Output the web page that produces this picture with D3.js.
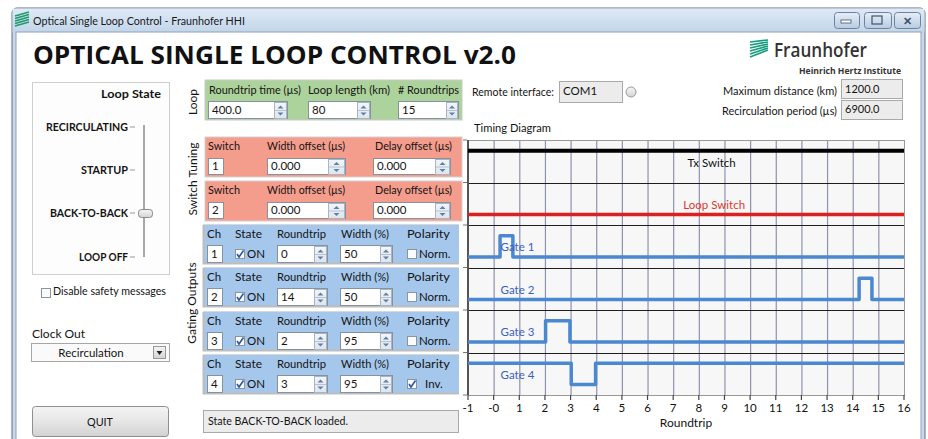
<!DOCTYPE html>
<html><head><meta charset="utf-8">
<script src="https://cdn.jsdelivr.net/npm/d3@7"></script>
<style>
body{margin:0;background:#fff;overflow:hidden}
svg{display:block}
text{font-family:"Lato","Open Sans",sans-serif}
</style>
</head><body>
<svg id="c" width="928" height="439"></svg>
<script>
// ---------------- DATA ----------------
const roundtripTicks = [-1,0,1,2,3,4,5,6,7,8,9,10,11,12,13,14,15,16];
const tickLabels = ["-1","-0","1","2","3","4","5","6","7","8","9","10","11","12","13","14","15","16"];
const laneNames = ["Tx Switch","Loop Switch","Gate 1","Gate 2","Gate 3","Gate 4"];
const txLevel = 1;      // high
const loopLevel = 0;    // low
const gateNames = ["Gate 1","Gate 2","Gate 3","Gate 4"];
const gateStart = [0.25, 14.25, 2.025, 3.025];
const gateEnd   = [0.75, 14.75, 2.975, 3.975];
const gateInverted = [false, false, false, true];

const loopStates = ["RECIRCULATING","STARTUP","BACK-TO-BACK","LOOP OFF"];
const loopFields = ["Roundtrip time (µs)","Loop length (km)","# Roundtrips"];
const loopValues = ["400.0","80","15"];
const switchIds = ["1","2"];
const widthOffsets = ["0.000","0.000"];
const delayOffsets = ["0.000","0.000"];
const channels = ["1","2","3","4"];
const chRoundtrip = ["0","14","2","3"];
const chWidth = ["50","50","95","95"];
const chPolarity = ["Norm.","Norm.","Norm.","Inv."];
const chPolarityChecked = [false,false,false,true];

// ---------------- HELPERS ----------------
const svg = d3.select("#c");
const defs = svg.append("defs");
function grad(id, stops){
  const g = defs.append("linearGradient").attr("id",id).attr("x1",0).attr("y1",0).attr("x2",0).attr("y2",1);
  stops.forEach(s=>g.append("stop").attr("offset",s[0]).attr("stop-color",s[1]));
}
grad("titleG",[[0,"#dfeaf6"],[1,"#c2d5ea"]]);
grad("btnG",[[0,"#f4f4f4"],[0.5,"#e6e6e6"],[1,"#d2d2d2"]]);
grad("winBtn",[[0,"#e6eef8"],[1,"#b8cbe2"]]);
grad("spinG",[[0,"#f2f5f9"],[1,"#dde5ee"]]);
grad("thumbG",[[0,"#f6f6f6"],[1,"#d4d4d4"]]);

function T(x,y,s,o={}){
  const e = svg.append("text").attr("x",x).attr("y",y).text(s)
    .attr("font-size",o.size||12).attr("fill",o.fill||"#141414")
    .attr("text-anchor",o.anchor||"start");
  if(o.weight) e.attr("font-weight",o.weight);
  if(o.len) e.attr("textLength",o.len).attr("lengthAdjust","spacingAndGlyphs");
  if(o.family) e.style("font-family",o.family);
  if(o.rotate) e.attr("transform",`rotate(-90,${x},${y})`);
  return e;
}
function R(x,y,w,h,fill,stroke,sw=1,rx=0){
  return svg.append("rect").attr("x",x).attr("y",y).attr("width",w).attr("height",h)
    .attr("fill",fill).attr("stroke",stroke||"none").attr("stroke-width",sw).attr("rx",rx);
}
function spin(x,y,w,h){
  R(x+.5,y+.5,w-1,h-1,"url(#spinG)","#a9b5c2");
  const m = y + h/2;
  svg.append("line").attr("x1",x+1).attr("x2",x+w-1).attr("y1",m).attr("y2",m).attr("stroke","#b8c2cc");
  const cx = x + w/2;
  svg.append("path").attr("d",`M${cx-3},${m-2}L${cx+3},${m-2}L${cx},${m-5}Z`).attr("fill","#5d7fa8");
  svg.append("path").attr("d",`M${cx-3},${m+2}L${cx+3},${m+2}L${cx},${m+5}Z`).attr("fill","#5d7fa8");
}
function input(x,y,w,h,val,spinW){
  R(x+.5,y+.5,w,h,"#fff","#8592a0");
  T(x+4,y+h-4,val,{size:11.5});
  if(spinW) spin(x+w-spinW,y+1,spinW,h);
}
function check(x,y,checked){
  R(x+.5,y+.5,9,9,"#fbfbfb","#8a95a2");
  if(checked) svg.append("path").attr("d",`M${x+2},${y+5}L${x+4},${y+8}L${x+8.5},${y+1.5}`)
    .attr("fill","none").attr("stroke","#2a57a8").attr("stroke-width",1.6);
}

// ---------------- WINDOW ----------------
R(12,8,913,440,"#c9d9eb","#5e6e80",1,5);
R(12.5,8.5,912,24,"url(#titleG)","none");
R(16,32,905,420,"#ffffff","#8fa2b6");
// title icon
[0,1,2,3,4].forEach(i=>svg.append("line").attr("x1",15).attr("y1",26-i*2.5).attr("x2",29).attr("y2",22-i*2.5)
  .attr("stroke","#1f9a6e").attr("stroke-width",1.6));
T(33,25,"Optical Single Loop Control - Fraunhofer HHI",{size:12,len:212,fill:"#1a1a1a"});
// window buttons
[[834,25],[864,27],[894,26]].forEach(b=>R(b[0]+.5,12.5,b[1],16,"url(#winBtn)","#6f8299",1,3));
svg.append("rect").attr("x",841).attr("y",20).attr("width",10).attr("height",3).attr("fill","#fff").attr("stroke","#41546b").attr("stroke-width",0.8);
svg.append("rect").attr("x",872).attr("y",16).attr("width",10).attr("height",8).attr("fill","none").attr("stroke","#41546b").attr("stroke-width",1.2);
T(907,25,"✕",{size:11,anchor:"middle",fill:"#41546b",weight:"bold"});

// main title
T(33,64,"OPTICAL SINGLE LOOP CONTROL v2.0",{size:25,weight:"bold",len:483,fill:"#111",family:"'Open Sans',sans-serif"});

// Fraunhofer logo
[0,1,2,3,4,5].forEach(i=>svg.append("line").attr("x1",750).attr("y1",57-i*3).attr("x2",768).attr("y2",50-i*2)
  .attr("stroke","#179c7d").attr("stroke-width",1.7));
T(774,57,"Fraunhofer",{size:19,len:93,fill:"#333",weight:600,family:"'Open Sans',sans-serif"});
T(901,74,"Heinrich Hertz Institute",{size:8.5,anchor:"end",weight:"bold",len:102,fill:"#333",family:"'Open Sans',sans-serif"});

// ---------------- LEFT PANEL ----------------
R(32.5,82.5,137,192,"#fdfdfd","#cfcfcf");
T(161,98,"Loop State",{size:12,anchor:"end",weight:"bold",len:60});
const stateY = [127,170,213,257];
const stateLen = [82,47,78,49];
svg.append("line").attr("x1",144).attr("x2",144).attr("y1",125).attr("y2",257).attr("stroke","#a8a8a8").attr("stroke-width",2);
loopStates.forEach((s,i)=>{
  T(128,stateY[i]+4,s,{size:11.5,anchor:"end",weight:"bold",len:stateLen[i]});
  svg.append("line").attr("x1",130).attr("x2",135).attr("y1",stateY[i]).attr("y2",stateY[i]).attr("stroke","#999");
});
R(138.5,209.5,14,8,"url(#thumbG)","#8a8a8a",1,3);

check(41,288,false);
T(53,295,"Disable safety messages",{size:12,len:113});
T(32,338,"Clock Out",{size:12});
R(31.5,343.5,138,18,"#fafafa","#a7a7a7");
T(91,357,"Recirculation",{size:11.5,anchor:"middle"});
R(153.5,346.5,12,12,"url(#btnG)","#999");
svg.append("path").attr("d","M156.5,351L162.5,351L159.5,355Z").attr("fill","#222");
R(32.5,406.5,136,30,"url(#btnG)","#8f8f8f",1,3);
T(100,426,"QUIT",{size:12,anchor:"middle",len:26});

// vertical section labels
T(197,102,"Loop",{size:12,anchor:"middle",rotate:true});
T(197,179,"Switch Tuning",{size:12,anchor:"middle",rotate:true});
T(196,303,"Gating Outputs",{size:12,anchor:"middle",rotate:true});

// ---------------- LOOP PANEL ----------------
R(205,80,257,40,"#add39c","#c9c9c9");
const loopLabelX = [209,308,398];
const loopLabelLen = [92,82,61];
const loopBox = [[208,79,13],[308,62,13],[398,60,12]];
loopFields.forEach((f,i)=>{
  T(loopLabelX[i],94,f,{size:11.5,len:loopLabelLen[i]});
  input(loopBox[i][0],101,loopBox[i][1],17,loopValues[i],loopBox[i][2]);
});

// ---------------- SWITCH TUNING ----------------
const swTop = [137,181];
switchIds.forEach((id,i)=>{
  const y0 = swTop[i];
  R(205,y0,257,40,"#f59d8c","#d2d2d2");
  T(208,y0+13,"Switch",{size:11.5,len:32});
  T(267,y0+13,"Width offset (µs)",{size:11.5,len:78});
  T(375,y0+13,"Delay offset (µs)",{size:11.5,len:77});
  input(208,y0+21,15,16,id);
  input(267,y0+21,78,16,widthOffsets[i],17);
  input(373,y0+21,77,16,delayOffsets[i],15);
});

// ---------------- GATING OUTPUTS ----------------
const chTop = [225,268,312,355];
channels.forEach((c,i)=>{
  const y0 = chTop[i];
  R(203,y0,256,38,"#a5c7ec","none");
  svg.append("path").attr("d",`M203.5,${y0}V${y0+38.5}H459`).attr("fill","none").attr("stroke","#bdbdbd").attr("stroke-width",2);
  svg.append("line").attr("x1",203).attr("x2",459).attr("y1",y0-0.5).attr("y2",y0-0.5).attr("stroke","#d8d8d8");
  T(207,y0+13,"Ch",{size:11.5});
  T(235,y0+13,"State",{size:11.5,len:27});
  T(277,y0+13,"Roundtrip",{size:11.5,len:49});
  T(341,y0+13,"Width (%)",{size:11.5,len:48});
  T(407,y0+13,"Polarity",{size:11.5,len:43});
  input(207,y0+20,15,17,c);
  check(235,y0+24,true);
  T(247,y0+33,"ON",{size:11.5});
  input(277,y0+20,50,17,chRoundtrip[i],13);
  input(340,y0+20,52,17,chWidth[i],12);
  check(407,y0+24,chPolarityChecked[i]);
  T(chPolarityChecked[i]?425:419,y0+33,chPolarity[i],{size:11.5});
});

// status bar
R(203.5,410.5,255,22,"#ececec","#a9a9a9");
T(208,425,"State BACK-TO-BACK loaded.",{size:11.5,len:140});

// ---------------- RIGHT TOP ----------------
T(472,96,"Remote interface:",{size:11.5,len:82});
R(559.5,81.5,63,21,"#ececec","#a9a9a9");
T(563,95,"COM1",{size:11.5});
svg.append("circle").attr("cx",631).attr("cy",92).attr("r",5).attr("fill","url(#thumbG)").attr("stroke","#9a9a9a");
T(837,95,"Maximum distance (km)",{size:11.5,anchor:"end",len:114});
T(837,115,"Recirculation period (µs)",{size:11.5,anchor:"end",len:115});
R(841.5,79.5,61,19,"#ececec","#a9a9a9");
R(841.5,100.5,61,19,"#ececec","#a9a9a9");
T(845,93,"1200.0",{size:11});
T(845,113,"6900.0",{size:11});
T(474,132,"Timing Diagram",{size:12,len:77});

// ---------------- TIMING DIAGRAM (chart) ----------------
const x = d3.scaleLinear().domain([-1,16]).range([468,904]);
const y = d3.scaleLinear().domain([0,6]).range([395,140]);
const g = svg.append("g");
g.append("rect").attr("x",x(-1)).attr("y",y(6)).attr("width",x(16)-x(-1)).attr("height",y(0)-y(6))
  .attr("fill","#f7f7f8");
// vertical gridlines
g.append("g").selectAll("line").data(roundtripTicks.slice(1,-1)).join("line")
  .attr("x1",d=>x(d)+.5).attr("x2",d=>x(d)+.5).attr("y1",y(6)).attr("y2",y(0))
  .attr("stroke","#8f92ad").attr("stroke-width",1.2);
// lane dividers
const laneIdx = d3.range(laneNames.length);
g.append("g").selectAll("line").data(laneIdx.slice(1)).join("line")
  .attr("x1",x(-1)).attr("x2",x(16)).attr("y1",d=>Math.round(y(d))+.5).attr("y2",d=>Math.round(y(d))+.5)
  .attr("stroke","#1e1e1e").attr("stroke-width",1);
// frame
g.append("rect").attr("x",x(-1)+.5).attr("y",y(6)+.5).attr("width",x(16)-x(-1)).attr("height",y(0)-y(6))
  .attr("fill","none").attr("stroke","#9a9a9a");
g.append("line").attr("x1",x(-1)).attr("x2",x(-1)).attr("y1",y(6)).attr("y2",y(0)).attr("stroke","#555").attr("stroke-width",2);
// left small ticks
g.append("g").selectAll("line").data(laneIdx.concat([6])).join("line")
  .attr("x1",x(-1)-5).attr("x2",x(-1)-1).attr("y1",d=>y(d)).attr("y2",d=>y(d)).attr("stroke","#777");

// level helper: lane from top (0..5) -> bottom index
const laneBottom = i => laneNames.length-1-i;
const lvl = (i,high) => y(laneBottom(i) + (high?0.75:0.25));

// Tx switch & Loop switch
g.append("line").attr("x1",x(-1)).attr("x2",x(16)).attr("y1",lvl(0,txLevel)).attr("y2",lvl(0,txLevel))
  .attr("stroke","#000").attr("stroke-width",4);
g.append("line").attr("x1",x(-1)).attr("x2",x(16)).attr("y1",lvl(1,loopLevel)).attr("y2",lvl(1,loopLevel))
  .attr("stroke","#dc1f1f").attr("stroke-width",3.5);
g.append("text").attr("x",x(8.5)).attr("y",y(laneBottom(0)+1)+27).attr("text-anchor","middle")
  .attr("font-size",11.5).attr("fill","#111").text(laneNames[0]);
g.append("text").attr("x",x(8.6)).attr("y",y(laneBottom(1)+1)+26).attr("text-anchor","middle")
  .attr("font-size",11.5).attr("fill","#e0372b").text(laneNames[1]);

// gates
const line = d3.line().x(d=>x(d[0])).y(d=>d[1]);
gateNames.forEach((name,k)=>{
  const lane = k+2;
  const base = lvl(lane,gateInverted[k]);
  const pulse = lvl(lane,!gateInverted[k]);
  const pts = [[-1,base],[gateStart[k],base],[gateStart[k],pulse],[gateEnd[k],pulse],[gateEnd[k],base],[16,base]];
  g.append("path").attr("d",line(pts)).attr("fill","none").attr("stroke","#4a88d0")
    .attr("stroke-width",3.5).attr("stroke-linejoin","round");
  g.append("text").attr("x",x(0.27)).attr("y",y(laneBottom(lane)+1)+26)
    .attr("font-size",11.5).attr("fill","#3a62c0").text(name);
});

// x axis ticks & labels
g.append("g").selectAll("line").data(roundtripTicks).join("line")
  .attr("x1",d=>x(d)).attr("x2",d=>x(d)).attr("y1",y(0)).attr("y2",y(0)+5).attr("stroke","#444").attr("stroke-width",1.2);
g.append("g").selectAll("text").data(roundtripTicks).join("text")
  .attr("x",d=>x(d)).attr("y",y(0)+17).attr("text-anchor","middle").attr("font-size",11.5).attr("fill","#111")
  .text((d,i)=>tickLabels[i]);
g.append("text").attr("x",x(7.5)).attr("y",y(0)+32).attr("text-anchor","middle").attr("font-size",12)
  .attr("fill","#111").text("Roundtrip");
</script>
</body></html>
